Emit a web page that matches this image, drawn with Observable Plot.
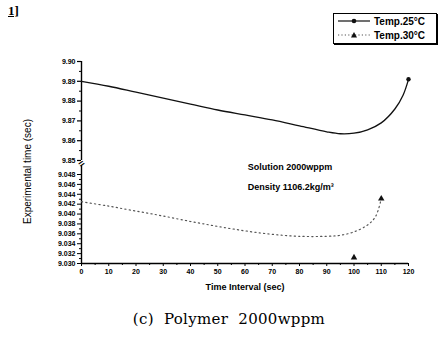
<!DOCTYPE html>
<html><head><meta charset="utf-8">
<script src="https://cdn.jsdelivr.net/npm/d3@7"></script>
<script src="https://cdn.jsdelivr.net/npm/@observablehq/plot@0.6"></script>
<style>
body{margin:0;background:#fff;}
#wrap{position:relative;width:441px;height:347px;overflow:hidden;font-family:"Liberation Sans",Arial,sans-serif;}
.abs{position:absolute;}
#legend{left:333px;top:13px;width:102px;height:29px;border:1px solid #000;box-shadow:1px 1px 0 #000;background:#fff;}
.row{display:flex;align-items:center;height:14px;font-size:10px;font-weight:bold;}
.row svg{margin-left:3px;margin-right:3px;}
</style></head>
<body>
<div id="wrap"></div>
<script>
// ---- data ----
const xTicks = [0,10,20,30,40,50,60,70,80,90,100,110,120];
const xMinor = [5,15,25,35,45,55,65,75,85,95,105,115];
const upperTicks = [9.85,9.86,9.87,9.88,9.89,9.90];
const upperMinor = [9.855,9.865,9.875,9.885,9.895];
const lowerTicks = [9.030,9.032,9.034,9.036,9.038,9.040,9.042,9.044,9.046,9.048];
const lowerMinor = [9.031,9.033,9.035,9.037,9.039,9.041,9.043,9.045,9.047];
const seriesNames = ["Temp.25°C","Temp.30°C"];
const time25 = [0,10,20,30,40,50,60,70,80,90,95,100,105,110,115,118,120];
const val25  = [9.890,9.8875,9.8845,9.8815,9.8785,9.8755,9.873,9.8705,9.8675,9.8645,9.8635,9.8638,9.8655,9.869,9.876,9.883,9.891];
const time30 = [0,10,20,30,40,50,60,70,80,90,95,100,105,108,110];
const val30  = [9.0425,9.0416,9.0406,9.0396,9.0385,9.0375,9.0366,9.0359,9.0355,9.0355,9.0357,9.0364,9.0378,9.0396,9.0431];
const mark25T = [120], mark25V = [9.891];
const mark30T = [110,100], mark30V = [9.0431,9.0312];
const noteLines = ["Solution 2000wppm","Density 1106.2kg/m³"];
const noteT = [61,61], noteV = [9.0494,9.0454];

const s25 = time25.map((t,i)=>({t, v: val25[i]}));
const s30 = time30.map((t,i)=>({t, v: val30[i]}));
const m25 = mark25T.map((t,i)=>({t, v: mark25V[i]}));
const m30 = mark30T.map((t,i)=>({t, v: mark30V[i]}));
const notes = noteLines.map((s,i)=>({s, t: noteT[i], v: noteV[i]}));

const font = '"Liberation Sans", Arial, sans-serif';
const common = {width:441, marginLeft:81, marginRight:33,
  style:{background:"transparent", fontFamily:font, overflow:"visible"}};

const upper = Plot.plot({...common, height:170, marginTop:61, marginBottom:10,
  x:{domain:[0,120], axis:null},
  y:{domain:[9.85,9.90], axis:null},
  marks:[
    Plot.axisY(upperTicks, {tickSize:4, tickPadding:2, fontSize:7, fontWeight:"bold", tickFormat:d=>d.toFixed(2), label:null, strokeWidth:1.2}),
    Plot.axisY(upperMinor, {tickSize:2, tickFormat:()=>"", label:null}),
    Plot.ruleX([0], {y1:9.85, y2:9.90, strokeWidth:1.4}),
    Plot.line(s25, {x:"t", y:"v", curve:"catmull-rom", stroke:"#111", strokeWidth:1.3}),
    Plot.dot(m25, {x:"t", y:"v", r:2.2, fill:"#111"})
  ]});

const lower = Plot.plot({...common, height:160, marginTop:34, marginBottom:37,
  x:{domain:[0,120], axis:null},
  y:{domain:[9.030,9.048], axis:null},
  marks:[
    Plot.axisY(lowerTicks, {tickSize:4, tickPadding:2, fontSize:7, fontWeight:"bold", tickFormat:d=>d.toFixed(3), label:null}),
    Plot.axisY(lowerMinor, {tickSize:2, tickFormat:()=>"", label:null}),
    Plot.axisX(xTicks, {tickSize:3, tickPadding:3, fontSize:7, fontWeight:"bold", label:null}),
    Plot.axisX(xMinor, {tickSize:2, tickFormat:()=>"", label:null}),
    Plot.ruleX([0], {y1:9.030, y2:9.0498, strokeWidth:1.4}),
    Plot.ruleY([9.030], {x1:0, x2:120, strokeWidth:1.4}),
    Plot.text([0], {x:d=>d, y:()=>9.0502, text:()=>"=", rotate:-35, fontSize:10, fontWeight:"bold"}),
    Plot.line(s30, {x:"t", y:"v", curve:"catmull-rom", stroke:"#555", strokeWidth:1.2, strokeDasharray:"1.2,3.2"}),
    Plot.dot(m30, {x:"t", y:"v", r:2.4, symbol:"triangle", fill:"#111"}),
    Plot.text(notes, {x:"t", y:"v", text:"s", textAnchor:"start", fontSize:9, fontWeight:"bold"})
  ]});

const wrap = document.getElementById("wrap");
function place(el, left, top){ el.style.position="absolute"; el.style.left=left+"px"; el.style.top=top+"px"; wrap.appendChild(el); }
place(upper, 0, 0);
place(lower, 0, 140);

function addText(html, css){ const d=document.createElement("div"); d.className="abs"; d.innerHTML=html; Object.assign(d.style, css); wrap.appendChild(d); return d; }
addText("1]", {left:"8px", top:"3px", fontFamily:'"Liberation Serif",serif', fontWeight:"bold", fontSize:"13px", textDecoration:"underline"});
addText("Time Interval (sec)", {left:"0px", width:"490px", textAlign:"center", top:"282px", fontSize:"9px", fontWeight:"bold"});
addText("Experimental time (sec)", {left:"-33px", top:"166px", width:"120px", textAlign:"center", fontSize:"10px", transform:"rotate(-90deg)"});
addText("(c)&nbsp;&nbsp;Polymer&nbsp;&nbsp;2000wppm", {left:"0px", width:"458px", textAlign:"center", top:"310px", fontFamily:'"DejaVu Serif",serif', fontSize:"15px", letterSpacing:"0.3px"});

// legend
const leg = document.createElement("div"); leg.id="legend"; leg.className="abs";
const sw = [
  '<svg width="34" height="8"><line x1="1" x2="33" y1="4" y2="4" stroke="#111" stroke-width="1.2"/><circle cx="17" cy="4" r="2.3" fill="#111"/></svg>',
  '<svg width="34" height="8"><line x1="1" x2="33" y1="4" y2="4" stroke="#555" stroke-width="1.2" stroke-dasharray="1.2,2.2"/><path d="M17,1 L20,6.5 L14,6.5 Z" fill="#111"/></svg>'
];
leg.innerHTML = seriesNames.map((n,i)=>`<div class="row">${sw[i]}<span>${n}</span></div>`).join("");
wrap.appendChild(leg);
</script>
</body></html>
